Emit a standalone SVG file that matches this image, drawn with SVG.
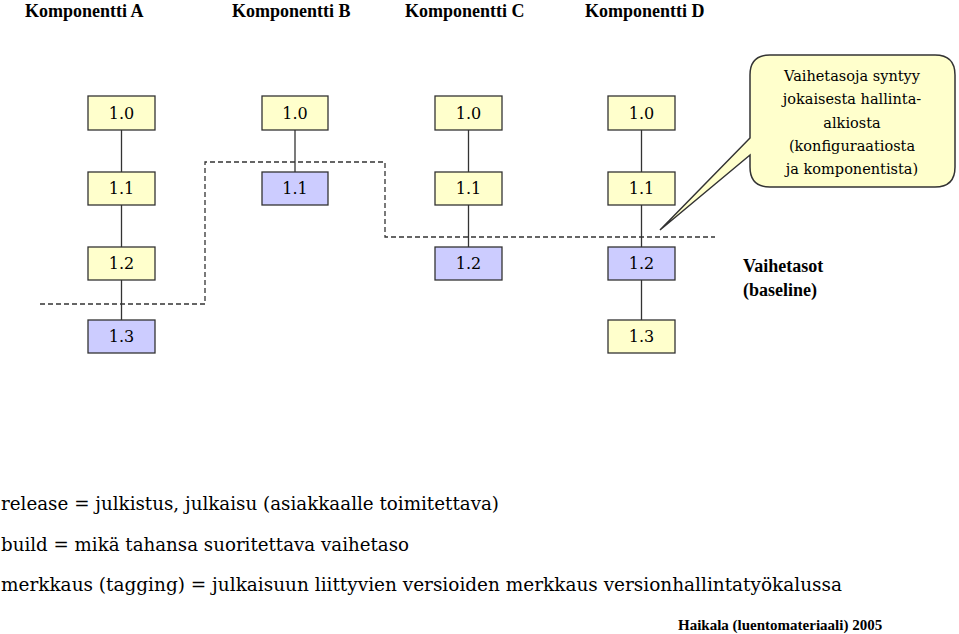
<svg xmlns="http://www.w3.org/2000/svg" width="959" height="634" viewBox="0 0 959 634">
<style>
.y{fill:#FFFFCC;stroke:#333;stroke-width:1.3}
.b{fill:#CCCCFF;stroke:#333;stroke-width:1.3}
text{font-family:"Liberation Serif","Times New Roman","DejaVu Serif",serif}
.t,.c,.l{font-family:"DejaVu Serif","Liberation Serif",serif}
.t{font-size:16px;text-anchor:middle}
.h{font-size:18px;font-weight:bold}
.l{font-size:18px}
.c{font-size:14.5px;text-anchor:middle}
</style>
<rect width="959" height="634" fill="#fff"/>
<text class="h" x="25" y="17">Komponentti A</text>
<text class="h" x="232" y="17">Komponentti B</text>
<text class="h" x="405" y="17">Komponentti C</text>
<text class="h" x="585" y="17">Komponentti D</text>
<g id="connectors" stroke="#333" stroke-width="1.3" fill="none">
<path d="M121.5 130V172M121.5 205V247M121.5 280V320"/>
<path d="M295 130V172"/>
<path d="M468.5 130V172M468.5 205V247"/>
<path d="M641.5 130V172M641.5 205V247M641.5 280V320"/>
<path d="M40 304H205V162H385V237H715" stroke-dasharray="5,3"/>
</g>
<g id="A"><rect class="y" x="88" y="96" width="67" height="34"/><text class="t" x="121.5" y="119">1.0</text>
<rect class="y" x="88" y="172" width="67" height="33"/><text class="t" x="121.5" y="194">1.1</text>
<rect class="y" x="88" y="247" width="67" height="33"/><text class="t" x="121.5" y="269">1.2</text>
<rect class="b" x="88" y="320" width="67" height="33"/><text class="t" x="121.5" y="342">1.3</text></g>
<g id="B"><rect class="y" x="262" y="96" width="66" height="34"/><text class="t" x="295" y="119">1.0</text>
<rect class="b" x="262" y="172" width="66" height="33"/><text class="t" x="295" y="194">1.1</text></g>
<g id="C"><rect class="y" x="435" y="96" width="67" height="34"/><text class="t" x="468.5" y="119">1.0</text>
<rect class="y" x="435" y="172" width="67" height="33"/><text class="t" x="468.5" y="194">1.1</text>
<rect class="b" x="435" y="247" width="67" height="33"/><text class="t" x="468.5" y="269">1.2</text></g>
<g id="D"><rect class="y" x="608" y="96" width="67" height="34"/><text class="t" x="641.5" y="119">1.0</text>
<rect class="y" x="608" y="172" width="67" height="33"/><text class="t" x="641.5" y="194">1.1</text>
<rect class="b" x="608" y="247" width="67" height="33"/><text class="t" x="641.5" y="269">1.2</text>
<rect class="y" x="608" y="320" width="67" height="33"/><text class="t" x="641.5" y="342">1.3</text></g>
<g id="callout">
<path d="M770 55H935Q955 55 955 75V167Q955 187 935 187H770Q750 187 750 167V155L660 230L750 138V75Q750 55 770 55Z" fill="#FFFFCC" stroke="#333" stroke-width="1.5"/>
<text class="c" x="852" y="81">Vaihetasoja syntyy</text>
<text class="c" x="852" y="104">jokaisesta hallinta-</text>
<text class="c" x="852" y="128">alkiosta</text>
<text class="c" x="852" y="151">(konfiguraatiosta</text>
<text class="c" x="852" y="174">ja komponentista)</text>
</g>
<text class="h" x="743" y="272">Vaihetasot</text>
<text class="h" x="743" y="296">(baseline)</text>
<text class="l" x="1" y="510" textLength="498" lengthAdjust="spacingAndGlyphs">release = julkistus, julkaisu (asiakkaalle toimitettava)</text>
<text class="l" x="1" y="551" textLength="408" lengthAdjust="spacingAndGlyphs">build = mikä tahansa suoritettava vaihetaso</text>
<text class="l" x="1" y="591" textLength="841" lengthAdjust="spacingAndGlyphs">merkkaus (tagging) = julkaisuun liittyvien versioiden merkkaus versionhallintatyökalussa</text>
<text class="h" x="678" y="630" style="font-size:15px">Haikala (luentomateriaali) 2005</text>
</svg>
